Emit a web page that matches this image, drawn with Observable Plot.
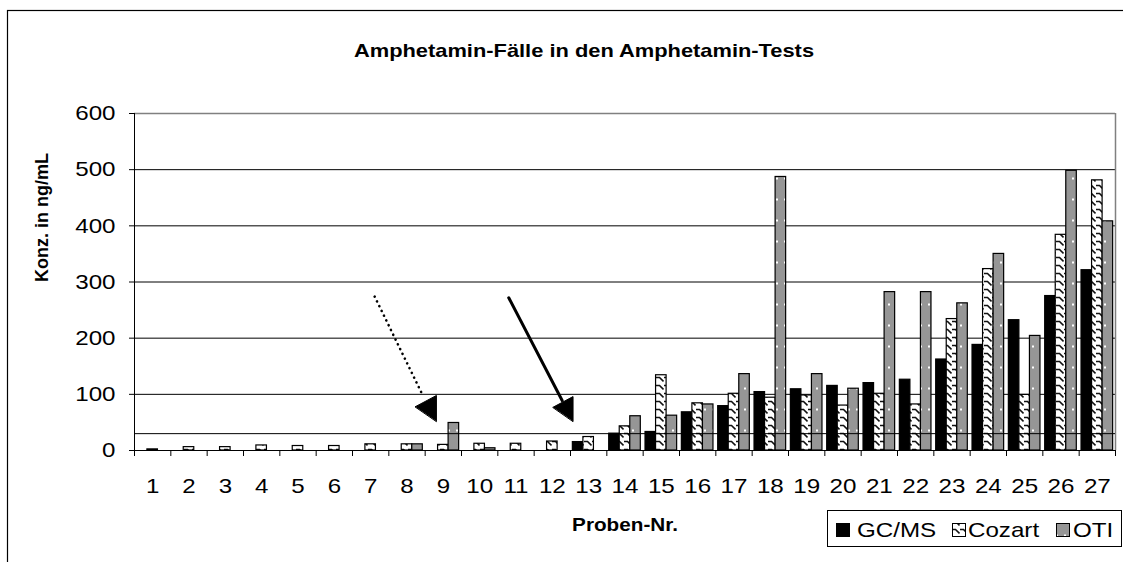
<!DOCTYPE html>
<html>
<head>
<meta charset="utf-8">
<script src="https://cdn.jsdelivr.net/npm/d3@7"></script>
<script src="https://cdn.jsdelivr.net/npm/@observablehq/plot@0.6"></script>
<style>
  html, body { margin: 0; padding: 0; background: #fff; }
  svg { font-family: "Liberation Sans", Arial, sans-serif; }
</style>
</head>
<body>
<script>
// ---- data ----
const categories = ["1","2","3","4","5","6","7","8","9","10","11","12","13","14","15","16","17","18","19","20","21","22","23","24","25","26","27"];
const seriesNames = ["GC/MS", "Cozart", "OTI"];
const gcms   = [0, 0, 0, 0, 0, 0, 0, 0, 0, 0, 0, 0, 15, 30, 33, 68, 79, 104, 109, 115, 120, 126, 162, 188, 232, 275, 321];
const cozart = [2, 6, 6, 9, 8, 8, 11, 11, 10, 12, 12, 16, 24, 43, 134, 84, 101, 94, 98, 80, 101, 82, 234, 323, 99, 384, 481];
const oti    = [0, 0, 0, 0, 0, 0, 0, 11, 49, 4, 0, 0, 0, 61, 62, 82, 136, 487, 136, 110, 282, 282, 262, 350, 204, 498, 408];
const yTicks = [0, 100, 200, 300, 400, 500, 600];
const gridValues = [100, 200, 300, 400, 500];
const cutoffValue = [30];
const titleText = "Amphetamin-Fälle in den Amphetamin-Tests";
const yLabel = "Konz. in ng/mL";
const xLabel = "Proben-Nr.";
// annotation arrows (in chart units: sample position, ng/mL)
const dottedArrowLine = [{x: 7.11, y: 274}, {x: 8.45, y: 96}];
const dottedArrowHead = [{x: 8.23, y: 78}, {x: 8.81, y: 98}, {x: 8.81, y: 52}];
const solidArrowLine  = [{x: 10.80, y: 272}, {x: 12.27, y: 89}];
const solidArrowHead  = [{x: 12.02, y: 77}, {x: 12.57, y: 96}, {x: 12.57, y: 52}];

// ---- build ----
const positions = categories.map((c, i) => i + 1);
const boundaries = d3.range(0.5, categories.length + 1, 1);
const barW = 0.29;
const seriesValues = [gcms, cozart, oti];
const fills = ["black", "url(#patCozart)", "url(#patOti)"];
function rowsFor(k) {
  return categories.map((c, i) => ({
    cat: c,
    x1: positions[i] - 1.5 * barW + k * barW,
    x2: positions[i] - 0.5 * barW + k * barW,
    v: seriesValues[k][i]
  }));
}
const barMarks = [0, 1, 2].map(k =>
  Plot.rectY(rowsFor(k), {x1: "x1", x2: "x2", y1: 0, y2: "v", fill: fills[k], stroke: "black", strokeWidth: 1.2})
);

const chart = Plot.plot({
  width: 1123,
  height: 562,
  marginLeft: 134,
  marginRight: 8,
  marginTop: 113,
  marginBottom: 112,
  x: {domain: [0.5, categories.length + 0.5], axis: null},
  y: {domain: [0, 600], axis: null},
  style: {background: "white", fontFamily: "'Liberation Sans', Arial, sans-serif", color: "black"},
  marks: [
    Plot.ruleY(gridValues, {stroke: "black", strokeWidth: 1}),
    Plot.ruleY([600], {stroke: "#808080", strokeWidth: 1.5}),
    Plot.ruleX([categories.length + 0.5], {stroke: "#808080", strokeWidth: 1.5}),
    ...barMarks,
    Plot.ruleY(cutoffValue, {stroke: "black", strokeWidth: 1}),
    Plot.ruleY([0], {stroke: "black", strokeWidth: 1}),
    Plot.ruleX([0.5], {stroke: "black", strokeWidth: 1}),
    Plot.axisY({ticks: yTicks, tickSize: 5, tickPadding: 14, fontSize: 21, tickFormat: d => String(d), label: null, stroke: "black"}),
    Plot.axisX({ticks: boundaries, tickSize: 6, tickFormat: () => "", label: null, stroke: "black"}),
    Plot.text(categories, {x: (d, i) => positions[i], text: d => d, frameAnchor: "bottom", dy: 36, lineAnchor: "middle", fontSize: 21, fill: "black"}),
    // arrows
    Plot.line(dottedArrowLine, {x: "x", y: "y", stroke: "black", strokeWidth: 2.6, strokeDasharray: "0.1 5.2", strokeLinecap: "round"}),
    Plot.line(dottedArrowHead, {x: "x", y: "y", fill: "black", stroke: "black", strokeWidth: 1, curve: "linear-closed"}),
    Plot.line(solidArrowLine, {x: "x", y: "y", stroke: "black", strokeWidth: 3}),
    Plot.line(solidArrowHead, {x: "x", y: "y", fill: "black", stroke: "black", strokeWidth: 1, curve: "linear-closed"}),
    // titles
    Plot.text([titleText], {frameAnchor: "top", dx: -41, dy: -63, lineAnchor: "middle", fontSize: 19, fontWeight: "bold", fill: "black"}),
    Plot.text([yLabel], {frameAnchor: "left", dx: -92, rotate: -90, lineAnchor: "middle", fontSize: 18, fontWeight: "bold", fill: "black"}),
    Plot.text([xLabel], {frameAnchor: "bottom", dy: 75, lineAnchor: "middle", fontSize: 18, fontWeight: "bold", fill: "black"})
  ]
});
document.body.append(chart);

const svg = d3.select(chart);
// patterns
const defs = svg.insert("defs", ":first-child");
const pc = defs.append("pattern").attr("id", "patCozart").attr("patternUnits", "userSpaceOnUse")
  .attr("width", 8).attr("height", 8);
pc.append("rect").attr("width", 8).attr("height", 8).attr("fill", "white");
pc.append("path").attr("d", "M0,1.5 H3.5 L7.5,5.5").attr("stroke", "#111").attr("stroke-width", 1.6).attr("fill", "none");
const po = defs.append("pattern").attr("id", "patOti").attr("patternUnits", "userSpaceOnUse")
  .attr("width", 8).attr("height", 21);
po.append("rect").attr("width", 8).attr("height", 21).attr("fill", "#969696");
po.append("rect").attr("x", 0).attr("y", 9.5).attr("width", 2).attr("height", 2).attr("fill", "white");

// outer chart border
svg.append("rect").attr("x", 7.5).attr("y", 10.5).attr("width", 1200).attr("height", 700)
  .attr("fill", "none").attr("stroke", "black").attr("stroke-width", 1.2);

// legend
const lg = svg.append("g").attr("text-anchor", "start");
lg.append("rect").attr("x", 827.5).attr("y", 510.5).attr("width", 294).attr("height", 36)
  .attr("fill", "white").attr("stroke", "black").attr("stroke-width", 1);
const legendItems = [
  {name: seriesNames[0], fill: "black", sx: 836, tx: 857},
  {name: seriesNames[1], fill: "url(#patCozart)", sx: 952, tx: 968},
  {name: seriesNames[2], fill: "url(#patOti)", sx: 1056, tx: 1073}
];
legendItems.forEach(it => {
  lg.append("rect").attr("x", it.sx + 0.5).attr("y", 523.5).attr("width", 13).attr("height", 13)
    .attr("fill", it.fill).attr("stroke", "black").attr("stroke-width", 1);
  lg.append("text").attr("x", it.tx).attr("y", 537).attr("text-anchor", "start")
    .attr("font-size", 21).attr("fill", "black").text(it.name);
});

// the reference is horizontally stretched: widen non-rotated text
chart.querySelectorAll("text").forEach(t => {
  const tr = t.getAttribute("transform") || "";
  if (/rotate/.test(tr)) return;
  if (!t.textContent) return;
  const len = t.getComputedTextLength();
  if (len > 0) {
    t.setAttribute("textLength", (len * 1.15).toFixed(1));
    t.setAttribute("lengthAdjust", "spacingAndGlyphs");
  }
});
</script>
</body>
</html>
